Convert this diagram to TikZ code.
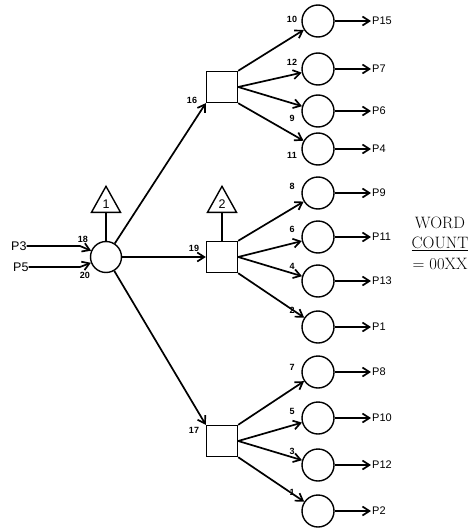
\documentclass[tikz,border=0pt]{standalone}
\usepackage{fontspec}
\newfontfamily\letterfont{Liberation Sans}
\usetikzlibrary{arrows.meta, shapes.geometric}

\begin{document}
\begin{tikzpicture}[
      x=1pt, y=-1pt,
      font=\letterfont,
      hub/.style={
        circle,
        draw=black,
        line width=1.4pt,
        minimum size=31pt,
        inner sep=0pt
      },
      outcirc/.style={
        circle,
        draw=black,
        line width=1.4pt,
        minimum size=32pt,
        inner sep=0pt
      },
      box/.style={
        rectangle,
        draw=black,
        line width=1.4pt,
        minimum size=31pt,
        inner sep=0pt
      },
      flag/.style={
        isosceles triangle,
        shape border rotate=90,
        isosceles triangle stretches,
        draw=black,
        line width=1.4pt,
        minimum width=29pt,
        minimum height=26pt,
        inner sep=0pt,
        anchor=south,
        font=\letterfont\fontsize{12.5}{13}\selectfont
      },
      plabel/.style={
        anchor=west,
        inner sep=1pt,
        font=\letterfont\fontsize{11}{11}\selectfont
      },
      inlabel/.style={
        anchor=west,
        inner sep=0pt,
        font=\letterfont\fontsize{12.5}{13}\selectfont
      },
      num/.style={
        inner sep=0pt,
        font=\letterfont\bfseries\fontsize{9}{9}\selectfont
      },
      arr/.style={
        -{Straight Barb[length=7pt,width=9pt]},
        line width=1.7pt
      }
    ]
    \useasboundingbox (0,0) rectangle (475,530);

    % Main objects
    \node[hub] (hub) at (106,257) {};
    \node[flag] (triA) at (106,213) {1};
    \draw[line width=1.7pt] (triA.south) -- (hub.north);

    \node[box] (sqTop) at (222,87) {};
    \node[box] (sqMid) at (222,257) {};
    \node[box] (sqBot) at (222,441) {};
    \node[flag] (triB) at (222,213) {2};
    \draw[line width=1.7pt] (triB.south) -- (sqMid.north);

    % Inputs
    \node[inlabel] (inA) at (11,246) {P3};
    \node[inlabel] (inB) at (13,267) {P5};
    \coordinate (kA) at (80,246);
    \coordinate (kB) at (80,267);
    \draw[arr] (inA.east) -- (kA) -- (hub);
    \draw[arr] (inB.east) -- (kB) -- (hub);
    \node[num] (n18) at (83,239) {18};
    \node[num] (n20) at (85,275) {20};

    % Hub to boxes
    \draw[arr] (hub) -- (sqTop.south west);
    \draw[arr] (hub) -- (sqMid);
    \draw[arr] (hub) -- (sqBot.north west);
    \node[num] (n16) at (192,100) {16};
    \node[num] (n19) at (194,248) {19};
    \node[num] (n17) at (194,430) {17};

    % Outputs
    \foreach \n/\y/\p/\ly/\s in {
        10/21/P15/19/sqTop.north east, 12/69/P7/62/sqTop.east,
        9/111/P6/118/sqTop.east, 11/149/P4/155/sqTop.south east,
        8/193/P9/186/sqMid.north east, 6/237/P11/229/sqMid.east,
        4/281/P13/266/sqMid.east, 2/327/P1/310/sqMid.south east,
        7/372/P8/367/sqBot.north east, 5/418/P10/411/sqBot.east,
        3/465/P12/451/sqBot.east, 1/511/P2/492/sqBot.south east} {
      \node[outcirc] (c\n) at (318,\y) {};
      \node[plabel] (p\n) at (371,\y) {\p};
      \node[num] (n\n) at (292,\ly) {\n};
      \draw[arr] (c\n) -- (p\n);
      \draw[arr] (\s) -- (c\n);
    }

    % Word count
    \node[align=center, inner sep=0pt,
      font=\rmfamily\fontsize{16.5}{20.5}\selectfont] (count) at (440,243)
      {WORD\\\underline{COUNT}\\= 00XX};

    \end{tikzpicture}
\end{document}
